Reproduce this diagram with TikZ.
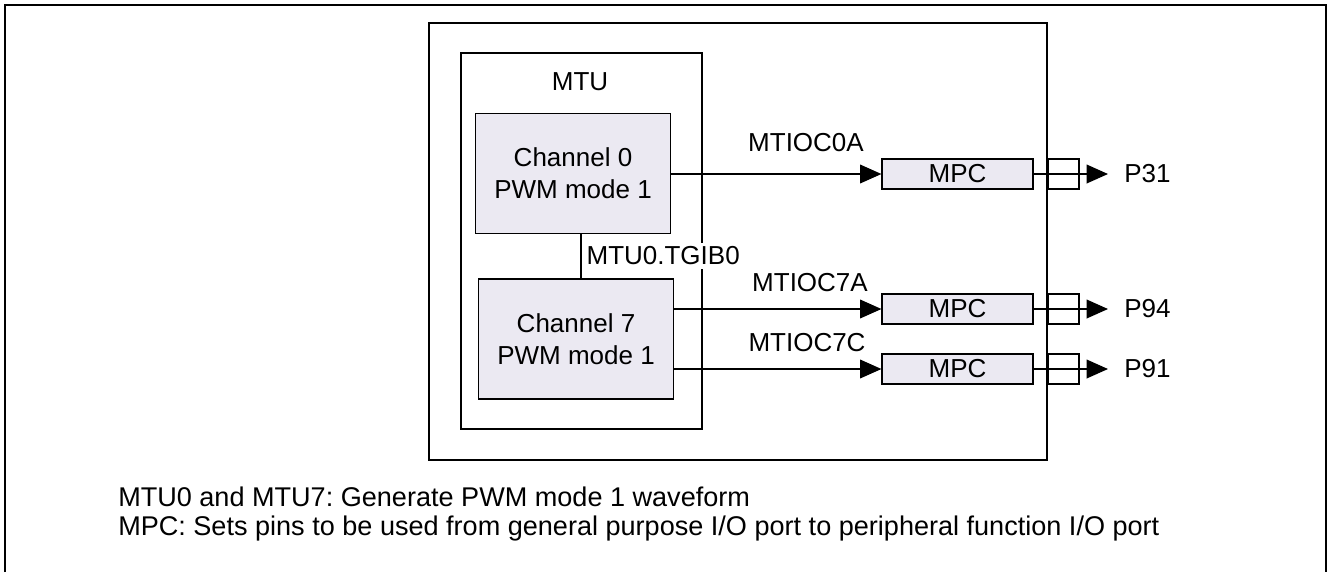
\documentclass[tikz,border=0pt]{standalone}
\usepackage{fontspec}
\setmainfont{Liberation Sans}
\usetikzlibrary{arrows.meta,positioning}
\definecolor{chanfill}{RGB}{235,233,242}
\frenchspacing

\tikzset{
  block/.style={draw, line width=1.1pt, fill=chanfill, inner sep=0pt},
  chanbox/.style={block, align=center, minimum width=146pt, minimum height=90pt,
    font=\fontsize{19.5}{24}\selectfont},
  mpcbox/.style={block, minimum width=113pt, minimum height=22.5pt,
    font=\fontsize{19.5}{22}\selectfont},
  pinbox/.style={draw, line width=1.1pt, minimum width=23pt, minimum height=22.5pt, inner sep=0pt},
  sig/.style={font=\fontsize{19.5}{22}\selectfont, inner sep=0pt},
  pinlabel/.style={font=\fontsize{19.5}{22}\selectfont, anchor=west, inner ysep=0pt, inner xsep=12pt},
  conn/.style={line width=1.1pt},
  arr/.style={conn, -{Triangle[length=16pt, width=14pt]}},
  note/.style={font=\fontsize{20.3}{22}\selectfont, anchor=west, inner sep=0pt}
}

\begin{document}
\begin{tikzpicture}[x=0.75pt, y=-0.75pt]

  \useasboundingbox (0,0) rectangle (1328,572);

  % Frame (open at the bottom)
  \draw[line width=1.5pt] (5,572) -- (5,5) -- (1326,5) -- (1326,572);

  % Chip and MTU
  \draw[line width=1.1pt] (429,23) rectangle (1047,460);
  \draw[line width=1.1pt] (461,53) rectangle (702,429);
  \node[sig] (mtu) at (580,82) {MTU};

  % Channels
  \node[chanbox] (ch0) at (573,173.5) {Channel 0\\PWM mode 1};
  \node[chanbox] (ch7) at (576,339)   {Channel 7\\PWM mode 1};

  % Link between the channels
  \coordinate (link) at (581,256);
  \draw[conn] (link |- ch0.south) -- (link |- ch7.north);
  \node[sig, anchor=west, fill=white, inner xsep=1pt, inner ysep=3pt] (tgib) at ([xshift=3pt]link) {MTU0.TGIB0};

  % MPC blocks
  \node[mpcbox] (mpc1) at (957.5,174) {MPC};
  \node[mpcbox] (mpc2) at (957.5,309) {MPC};
  \node[mpcbox] (mpc3) at (957.5,369) {MPC};

  % Pins
  \node[pinbox] (pin1) at (1063.5,174) {};
  \node[pinbox] (pin2) at (1063.5,309) {};
  \node[pinbox] (pin3) at (1063.5,369) {};

  \node[pinlabel] (p31) at (1108,174) {P31};
  \node[pinlabel] (p94) at (1108,309) {P94};
  \node[pinlabel] (p91) at (1108,369) {P91};

  % Output signals
  \draw[arr] (ch0.east |- mpc1.west) -- (mpc1.west);
  \draw[arr] (ch7.east |- mpc2.west) -- (mpc2.west);
  \draw[arr] (ch7.east |- mpc3.west) -- (mpc3.west);

  \node[sig] (oc0a) at (806,143) {MTIOC0A};
  \node[sig] (oc7a) at (810,283) {MTIOC7A};
  \node[sig] (oc7c) at (807,343) {MTIOC7C};

  \draw[arr] (mpc1.east) -- (p31);
  \draw[arr] (mpc2.east) -- (p94);
  \draw[arr] (mpc3.east) -- (p91);

  % Notes
  \node[note] (note1) at (118,497) {MTU0 and MTU7: Generate PWM mode 1 waveform};
  \node[note] (note2) at (118,528) {MPC: Sets pins to be used from general purpose I/O port to peripheral function I/O port};

\end{tikzpicture}
\end{document}
